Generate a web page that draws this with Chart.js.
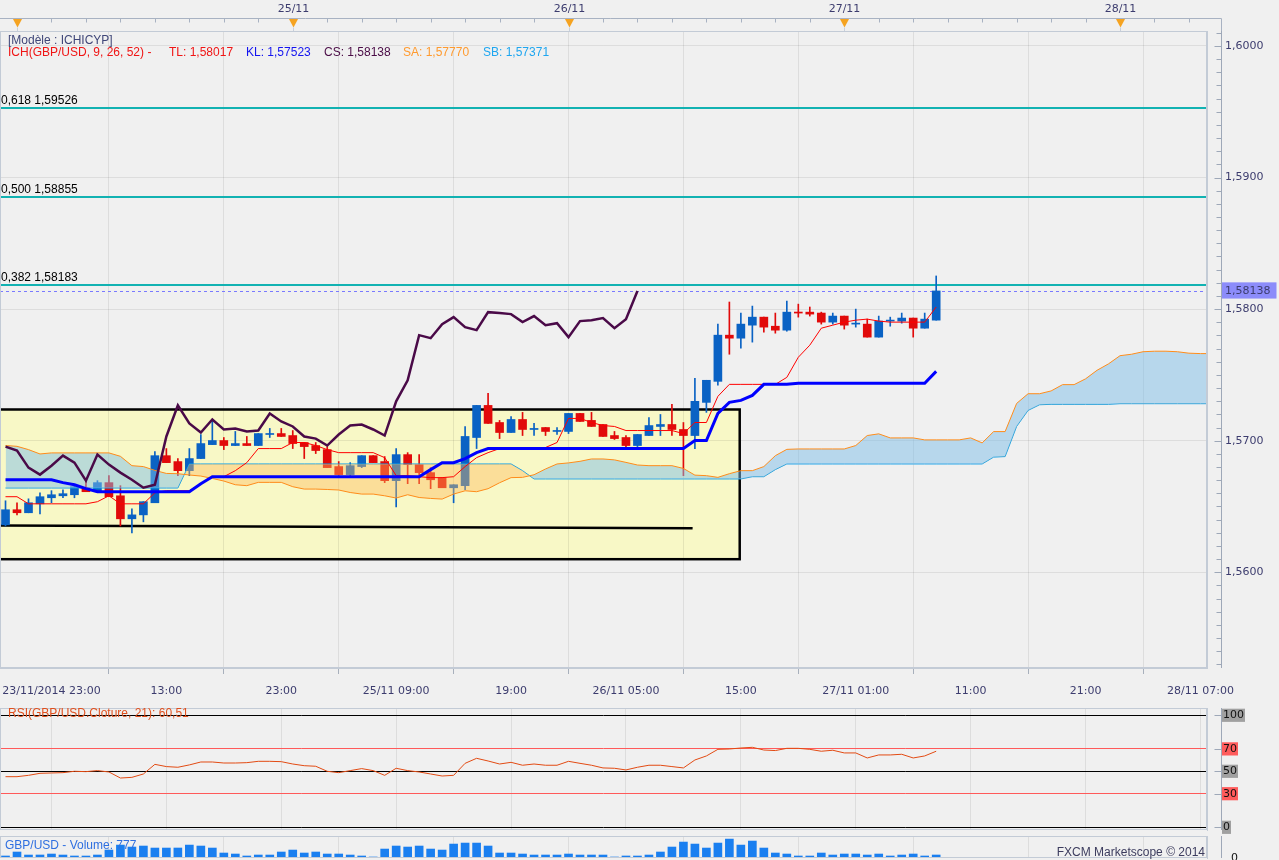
<!DOCTYPE html>
<html lang="fr">
<head>
<meta charset="UTF-8">
<title>GBP/USD - ICHICYP</title>
<style>
  body { margin: 0; padding: 0; background: #f0f0f0; width: 1279px; height: 860px; overflow: hidden; position: relative; font-family: 'Liberation Sans', Arial, sans-serif; }
  canvas { position: absolute; left: 0; }
  #main { top: 0; }
  #rsi { top: 705px; }
  #vol { top: 834px; }
  .txt { position: absolute; font-size: 12px; line-height: 14px; white-space: nowrap; z-index: 2; }
</style>
</head>
<body>
<canvas id="main" width="1279" height="705"></canvas>
<canvas id="rsi" width="1279" height="130"></canvas>
<canvas id="vol" width="1279" height="40"></canvas>

<div class="txt" style="left:8px;top:33px;color:#3f4678">[Modèle : ICHICYP]</div>
<div class="txt" style="left:8px;top:45px;color:#f01414">ICH(GBP/USD, 9, 26, 52) -</div>
<div class="txt" style="left:169px;top:45px;color:#f01414">TL: 1,58017</div>
<div class="txt" style="left:246px;top:45px;color:#1414f0">KL: 1,57523</div>
<div class="txt" style="left:324px;top:45px;color:#4a0c46">CS: 1,58138</div>
<div class="txt" style="left:403px;top:45px;color:#ff9a2e">SA: 1,57770</div>
<div class="txt" style="left:483px;top:45px;color:#1ea6f0">SB: 1,57371</div>
<div class="txt" style="left:8px;top:706px;color:#e0501e">RSI(GBP/USD.Cloture, 21): 60,51</div>
<div class="txt" style="left:5px;top:838px;color:#2f6fe0">GBP/USD - Volume: 777</div>
<div class="txt" style="right:74px;top:845px;color:#3c3c5e">FXCM Marketscope © 2014</div>

<script src="https://cdn.jsdelivr.net/npm/chart.js"></script>
<script>
// bougies horaires GBP/USD (index de barre 0..81)
const opens = [1.56360,1.56475,1.56452,1.56520,1.56566,1.56581,1.56589,1.56642,1.56612,1.56681,
  1.56581,1.56406,1.56436,1.56528,1.56886,1.56841,1.56772,1.56864,1.56970,1.57001,
  1.56963,1.56978,1.56963,1.57047,1.57054,1.57039,1.56986,1.56963,1.56932,1.56803,
  1.56742,1.56803,1.56886,1.56841,1.56696,1.56894,1.56818,1.56757,1.56719,1.56642,
  1.56658,1.57024,1.57268,1.57138,1.57062,1.57161,1.57085,1.57100,1.57070,1.57070,
  1.57207,1.57154,1.57123,1.57039,1.57024,1.56963,1.57039,1.57108,1.57123,1.57085,
  1.57039,1.57291,1.57451,1.57802,1.57779,1.57878,1.57939,1.57870,1.57840,1.57977,
  1.57977,1.57970,1.57901,1.57947,1.57886,1.57886,1.57787,1.57909,1.57909,1.57932,
  1.57855,1.57916];
const highs = [1.56543,1.56528,1.56558,1.56604,1.56620,1.56627,1.56665,1.56688,1.56696,1.56734,
  1.56658,1.56482,1.56536,1.56917,1.56940,1.56864,1.56940,1.57047,1.57161,1.57024,
  1.57070,1.57032,1.57054,1.57093,1.57093,1.57077,1.56986,1.56986,1.56955,1.56841,
  1.56833,1.56886,1.56886,1.56879,1.56940,1.56909,1.56894,1.56795,1.56719,1.56665,
  1.57108,1.57268,1.57360,1.57154,1.57184,1.57215,1.57131,1.57100,1.57100,1.57207,
  1.57207,1.57215,1.57123,1.57070,1.57039,1.57047,1.57176,1.57199,1.57276,1.57138,
  1.57474,1.57459,1.57886,1.58054,1.57970,1.58023,1.57939,1.57970,1.58061,1.58038,
  1.58016,1.57977,1.57970,1.57947,1.58000,1.57924,1.57947,1.57939,1.57970,1.57932,
  1.57970,1.58252];
const lows = [1.56352,1.56436,1.56452,1.56444,1.56528,1.56566,1.56566,1.56612,1.56612,1.56574,
  1.56352,1.56299,1.56383,1.56528,1.56833,1.56734,1.56734,1.56864,1.56970,1.56932,
  1.56963,1.56963,1.56963,1.57024,1.57032,1.56940,1.56864,1.56902,1.56795,1.56726,
  1.56726,1.56795,1.56833,1.56681,1.56497,1.56673,1.56673,1.56635,1.56642,1.56528,
  1.56627,1.56940,1.57131,1.57016,1.57062,1.57039,1.57039,1.57039,1.57047,1.57054,
  1.57146,1.57108,1.57032,1.57009,1.56940,1.56955,1.57039,1.57039,1.57039,1.56734,
  1.56940,1.57215,1.57421,1.57657,1.57703,1.57749,1.57825,1.57817,1.57832,1.57939,
  1.57947,1.57886,1.57886,1.57848,1.57863,1.57787,1.57787,1.57870,1.57893,1.57787,
  1.57855,1.57916];
const closes = [1.56475,1.56452,1.56528,1.56574,1.56589,1.56597,1.56650,1.56612,1.56681,1.56574,
  1.56406,1.56436,1.56536,1.56886,1.56833,1.56772,1.56864,1.56978,1.57001,1.56963,
  1.56978,1.56963,1.57054,1.57050,1.57032,1.56978,1.56955,1.56925,1.56795,1.56742,
  1.56810,1.56886,1.56833,1.56696,1.56894,1.56818,1.56757,1.56703,1.56642,1.56665,
  1.57032,1.57268,1.57131,1.57062,1.57161,1.57085,1.57093,1.57070,1.57077,1.57207,
  1.57146,1.57108,1.57032,1.57016,1.56963,1.57047,1.57115,1.57123,1.57085,1.57039,
  1.57299,1.57459,1.57802,1.57779,1.57886,1.57939,1.57863,1.57840,1.57977,1.57970,
  1.57962,1.57901,1.57947,1.57878,1.57893,1.57787,1.57909,1.57916,1.57932,1.57855,
  1.57924,1.58138];

// Ichimoku
const tenkan = [1.56574,1.56574,1.56520,1.56520,1.56520,1.56520,1.56520,1.56520,1.56536,1.56581,
  1.56520,1.56520,1.56520,1.56604,1.56620,1.56620,1.56620,1.56673,1.56726,1.56726,
  1.56772,1.56833,1.56940,1.56940,1.56940,1.56986,1.56986,1.56963,1.56932,1.56909,
  1.56909,1.56909,1.56909,1.56871,1.56734,1.56734,1.56726,1.56719,1.56719,1.56726,
  1.56803,1.56871,1.56909,1.56940,1.56940,1.56940,1.56940,1.56948,1.56986,1.57169,
  1.57169,1.57138,1.57115,1.57108,1.57077,1.57077,1.57077,1.57077,1.57077,1.57054,
  1.57138,1.57138,1.57337,1.57428,1.57428,1.57428,1.57428,1.57428,1.57481,1.57634,
  1.57726,1.57855,1.57878,1.57901,1.57916,1.57924,1.57909,1.57901,1.57901,1.57901,
  1.57901,1.58016];
const kijun = [1.56703,1.56703,1.56703,1.56703,1.56703,1.56681,1.56665,1.56635,1.56612,1.56612,
  1.56612,1.56612,1.56612,1.56612,1.56612,1.56612,1.56612,1.56673,1.56726,1.56726,
  1.56726,1.56726,1.56726,1.56726,1.56726,1.56726,1.56726,1.56726,1.56726,1.56726,
  1.56726,1.56726,1.56726,1.56726,1.56726,1.56726,1.56726,1.56780,1.56833,1.56833,
  1.56864,1.56909,1.56940,1.56940,1.56940,1.56940,1.56940,1.56940,1.56940,1.56940,
  1.56940,1.56940,1.56940,1.56940,1.56940,1.56940,1.56940,1.56940,1.56940,1.56940,
  1.57001,1.57001,1.57207,1.57291,1.57306,1.57344,1.57428,1.57428,1.57428,1.57436,
  1.57436,1.57436,1.57436,1.57436,1.57436,1.57436,1.57436,1.57436,1.57436,1.57436,
  1.57436,1.57527];
// nuage, projeté jusqu'à la barre 105
const spanA = [1.56963,1.56957,1.56932,1.56899,1.56907,1.56907,1.56907,1.56907,1.56907,1.56907,
  1.56881,1.56810,1.56803,1.56774,1.56751,1.56749,1.56739,1.56731,1.56713,1.56693,
  1.56665,1.56658,1.56683,1.56683,1.56683,1.56650,1.56632,1.56632,1.56629,1.56625,
  1.56606,1.56594,1.56594,1.56581,1.56564,1.56589,1.56568,1.56561,1.56556,1.56594,
  1.56619,1.56612,1.56635,1.56680,1.56719,1.56721,1.56741,1.56785,1.56823,1.56831,
  1.56843,1.56861,1.56861,1.56854,1.56835,1.56815,1.56810,1.56810,1.56810,1.56789,
  1.56738,1.56734,1.56721,1.56749,1.56772,1.56772,1.56803,1.56886,1.56934,1.56937,
  1.56937,1.56937,1.56937,1.56937,1.56963,1.57039,1.57052,1.57021,1.57021,1.57021,
  1.57006,1.57006,1.57006,1.57006,1.57021,1.56983,1.57069,1.57069,1.57283,1.57357,
  1.57357,1.57378,1.57426,1.57426,1.57470,1.57535,1.57584,1.57646,1.57657,1.57676,
  1.57680,1.57680,1.57676,1.57665,1.57662,1.57662];
const spanB = [1.56640,1.56640,1.56640,1.56640,1.56640,1.56640,1.56640,1.56640,1.56640,1.56640,
  1.56640,1.56640,1.56640,1.56640,1.56640,1.56640,1.56823,1.56823,1.56823,1.56823,
  1.56823,1.56823,1.56823,1.56823,1.56823,1.56823,1.56823,1.56823,1.56823,1.56823,
  1.56823,1.56823,1.56823,1.56823,1.56823,1.56823,1.56823,1.56823,1.56823,1.56823,
  1.56823,1.56823,1.56823,1.56823,1.56823,1.56772,1.56709,1.56709,1.56709,1.56709,
  1.56709,1.56709,1.56709,1.56709,1.56709,1.56709,1.56709,1.56709,1.56709,1.56709,
  1.56709,1.56709,1.56709,1.56709,1.56709,1.56726,1.56726,1.56780,1.56823,1.56823,
  1.56823,1.56823,1.56823,1.56823,1.56823,1.56823,1.56823,1.56823,1.56823,1.56823,
  1.56823,1.56823,1.56823,1.56823,1.56823,1.56823,1.56875,1.56879,1.57108,1.57230,
  1.57273,1.57276,1.57276,1.57276,1.57276,1.57276,1.57276,1.57281,1.57281,1.57281,
  1.57281,1.57281,1.57281,1.57281,1.57281,1.57281];
const chikouShift = 26;

const rsi = [45.2,45.2,46.4,48.2,48.5,48.8,50.0,49.7,50.6,49.4,
  44.0,44.6,47.6,56.2,54.2,53.6,55.7,58.3,58.3,57.4,
  57.4,57.7,58.9,58.9,58.6,56.5,55.0,54.5,50.0,48.8,
  50.6,52.4,50.6,46.4,52.7,50.6,49.4,47.6,45.8,46.4,
  57.1,61.6,59.2,56.5,58.0,55.4,56.5,55.4,55.4,58.9,
  57.1,55.4,53.0,52.7,51.2,53.6,55.4,55.4,54.2,53.0,
  60.1,63.7,69.6,69.9,70.8,71.4,69.0,68.5,70.5,70.5,
  69.6,67.9,68.8,66.4,66.4,61.9,64.6,64.6,65.2,61.9,
  63.7,67.9];
const rsiLevels = [0, 30, 50, 70, 100];

const volumes = [520,1550,770,780,1030,770,520,510,775,2060,
  3350,2840,3100,2580,2580,2590,3350,3100,2580,1290,
  1030,520,775,770,1550,2060,1290,1550,1030,1035,
  770,520,260,2320,3100,2840,3100,2320,2060,3610,
  3870,3870,3100,1290,1290,1030,770,775,770,1030,
  770,775,770,260,520,515,770,1550,2840,4130,
  3610,2580,3870,4900,3350,4390,2580,1290,1030,520,
  515,1290,770,1030,1035,770,1030,520,770,1030,
  520,777];

// Fibonacci
const fibRatios = ['0,618', '0,500', '0,382'];
const fibLevels = [1.59526, 1.58855, 1.58183];

// rectangle jaune et ligne de support (barre, prix)
const zone = [-3, 63.9, 1.56099, 1.57237];
const supportLine = [{x: -0.5, y: 1.56356}, {x: 59.8, y: 1.56334}];

// axes
const tickBars = [4, 14, 24, 34, 44, 54, 64, 74, 84, 94, 104];
const tickLabels = ['23/11/2014 23:00', '13:00', '23:00', '25/11 09:00', '19:00', '26/11 05:00',
  '15:00', '27/11 01:00', '11:00', '21:00', '28/11 07:00'];
const dayBars = [1, 25, 49, 73, 97];
const dayLabels = ['', '25/11', '26/11', '27/11', '28/11'];

const X_MIN = -0.48, X_MAX = 104.57;
const Y_MIN = 1.55272, Y_MAX = 1.60114;
const lastClose = closes[closes.length - 1];

const UP = '#0a62c4', DOWN = '#e10a0a';
const AXIS_TXT = '#3c3c6e';
const GRID = 'rgba(0,0,0,0.08)';
const FRAME = '#c3cbd6';
const RULER_Y = 18.5;

Chart.defaults.font.family = "'DejaVu Sans', sans-serif";
Chart.defaults.font.size = 11;
Chart.defaults.animation = false;
Chart.defaults.plugins.legend.display = false;
Chart.defaults.plugins.tooltip.enabled = false;

const idx = closes.map((_, i) => i);
const candleColor = idx.map(i => closes[i] >= opens[i] ? UP : DOWN);
const pts = arr => arr.map((v, i) => ({x: i, y: v}));
const fmt = (v, d) => v.toFixed(d).replace('.', ',');
const isMajor = v => v !== lastClose && Math.abs(v * 100 - Math.round(v * 100)) < 1e-6;

// pas de marge automatique due aux libellés : les panneaux restent alignés
const noPad = s => { s.paddingLeft = 0; s.paddingRight = 0; s.paddingTop = 0; s.paddingBottom = 0; };

const xCommon = {
  type: 'linear', min: X_MIN, max: X_MAX, offset: false,
  afterBuildTicks: s => { s.ticks = tickBars.map(v => ({value: v})); }
};

// cadre + axe de droite avec petites graduations
const rightAxis = {
  id: 'rightAxis',
  afterDraw(chart) {
    const {ctx, chartArea: a, scales: {y}} = chart;
    const ax = Math.round(a.right) + 14.5;
    ctx.save();
    ctx.strokeStyle = FRAME;
    ctx.lineWidth = 1;
    ctx.strokeRect(a.left + 0.5, a.top + 0.5, a.right - a.left - 1, a.bottom - a.top - 1);
    ctx.strokeStyle = '#9ea8b8';
    ctx.beginPath();
    ctx.moveTo(ax, a.top);
    ctx.lineTo(ax, a.bottom);
    y.ticks.forEach(t => {
      if (t.value === lastClose) return;
      const py = Math.round(y.getPixelForValue(t.value)) + 0.5;
      if (py < a.top || py > a.bottom) return;
      const len = t.label ? 7 : 5;
      ctx.moveTo(ax - len, py);
      ctx.lineTo(ax, py);
    });
    ctx.stroke();
    ctx.restore();
  }
};

const mainDecor = {
  id: 'mainDecor',
  beforeDraw(chart) {
    const {ctx, chartArea: a, scales: {x, y}} = chart;
    ctx.save();
    ctx.beginPath();
    ctx.rect(a.left, a.top, a.right - a.left, a.bottom - a.top);
    ctx.clip();
    const x0 = x.getPixelForValue(zone[0]), x1 = x.getPixelForValue(zone[1]);
    const yt = y.getPixelForValue(zone[3]), yb = y.getPixelForValue(zone[2]);
    ctx.fillStyle = '#f8f8c6';
    ctx.fillRect(x0, yt, x1 - x0, yb - yt);
    ctx.restore();
  },
  beforeDatasetsDraw(chart) {
    const {ctx, chartArea: a, scales: {x, y}} = chart;
    ctx.save();
    ctx.beginPath();
    ctx.rect(a.left, a.top, a.right - a.left, a.bottom - a.top);
    ctx.clip();
    // bord du rectangle
    const x0 = x.getPixelForValue(zone[0]), x1 = x.getPixelForValue(zone[1]);
    const yt = y.getPixelForValue(zone[3]), yb = y.getPixelForValue(zone[2]);
    ctx.strokeStyle = '#000';
    ctx.lineWidth = 2.5;
    ctx.strokeRect(x0, yt, x1 - x0, yb - yt);
    // niveaux de Fibonacci
    ctx.strokeStyle = '#12b2b2';
    ctx.lineWidth = 2;
    ctx.fillStyle = '#000';
    ctx.font = "12px 'Liberation Sans', Arial, sans-serif";
    ctx.textBaseline = 'bottom';
    fibLevels.forEach((lv, i) => {
      const py = Math.round(y.getPixelForValue(lv));
      ctx.beginPath();
      ctx.moveTo(a.left, py);
      ctx.lineTo(a.right, py);
      ctx.stroke();
      ctx.fillText(fibRatios[i] + ' ' + fmt(lv, 5), a.left + 1, py - 1);
    });
    // dernier cours
    const pc = Math.round(y.getPixelForValue(lastClose)) + 0.5;
    ctx.strokeStyle = '#7a7aff';
    ctx.lineWidth = 1;
    ctx.setLineDash([3, 3]);
    ctx.beginPath();
    ctx.moveTo(a.left, pc);
    ctx.lineTo(a.right, pc);
    ctx.stroke();
    ctx.restore();
  },
  afterDraw(chart) {
    const {ctx, chartArea: a, scales: {x}} = chart;
    const ax = Math.round(a.right) + 14.5;
    ctx.save();
    // règle du haut, reliée à l'axe de droite
    ctx.strokeStyle = '#a8b2c2';
    ctx.lineWidth = 1;
    ctx.beginPath();
    ctx.moveTo(0, RULER_Y);
    ctx.lineTo(ax, RULER_Y);
    ctx.lineTo(ax, a.top);
    for (let b = dayBars[0]; b <= X_MAX; b += 3) {
      const px = Math.round(x.getPixelForValue(b)) + 0.5;
      ctx.moveTo(px, RULER_Y);
      ctx.lineTo(px, RULER_Y + 4);
    }
    ctx.stroke();
    ctx.textAlign = 'center';
    ctx.textBaseline = 'middle';
    dayBars.forEach((b, i) => {
      const px = Math.round(x.getPixelForValue(b)) + 0.5;
      ctx.fillStyle = '#f5a321';
      ctx.beginPath();
      ctx.moveTo(px - 4.5, RULER_Y + 0.5);
      ctx.lineTo(px + 4.5, RULER_Y + 0.5);
      ctx.lineTo(px, RULER_Y + 9);
      ctx.closePath();
      ctx.fill();
      ctx.strokeStyle = '#c8d0dc';
      ctx.beginPath();
      ctx.moveTo(px, RULER_Y + 9);
      ctx.lineTo(px, a.top);
      ctx.stroke();
      if (dayLabels[i]) {
        ctx.fillStyle = AXIS_TXT;
        ctx.fillText(dayLabels[i], px, 9);
      }
    });
    ctx.restore();
  }
};

new Chart(document.getElementById('main'), {
  type: 'bar',
  data: {
    datasets: [
      {type: 'line', label: 'CS', data: pts(closes.slice(chikouShift)), borderColor: '#4a0a48', borderWidth: 2.5, pointRadius: 0, order: 1},
      {type: 'line', label: 'KL', data: pts(kijun), borderColor: '#0000ff', borderWidth: 3, pointRadius: 0, order: 2},
      {type: 'line', label: 'TL', data: pts(tenkan), borderColor: '#ff0000', borderWidth: 1, pointRadius: 0, order: 3},
      {type: 'line', label: 'SA', data: pts(spanA), borderColor: '#ff8c1a', borderWidth: 1, pointRadius: 0, order: 7,
        fill: {target: '+1', above: 'rgba(125,190,232,0.5)', below: 'rgba(255,186,90,0.42)'}},
      {type: 'line', label: 'SB', data: pts(spanB), borderColor: '#12a0e8', borderWidth: 1, pointRadius: 0, order: 7},
      {type: 'bar', label: 'corps', data: idx.map(i => ({x: i, y: [opens[i], closes[i]]})), backgroundColor: candleColor,
        barThickness: 8, minBarLength: 1, grouped: false, order: 8},
      {type: 'bar', label: 'mèches', data: idx.map(i => ({x: i, y: [lows[i], highs[i]]})), backgroundColor: candleColor,
        barThickness: 1, grouped: false, order: 9},
      {type: 'line', label: 'support', data: supportLine, borderColor: '#000', borderWidth: 2.5, pointRadius: 0, order: 10}
    ]
  },
  options: {
    responsive: false,
    layout: {padding: {top: 31, left: 0, right: 0, bottom: 0}},
    scales: {
      x: {
        ...xCommon,
        afterFit: s => { s.height = 37; noPad(s); },
        ticks: {autoSkip: false, maxRotation: 0, padding: 11, color: AXIS_TXT,
          callback: (v, i) => tickLabels[i] || ''},
        grid: {color: GRID, tickColor: '#a8b0bc', tickLength: 6},
        border: {color: FRAME}
      },
      y: {
        position: 'right', min: Y_MIN, max: Y_MAX,
        afterBuildTicks: s => {
          const t = [];
          for (let k = 1553; k <= 1601; k++) t.push({value: k / 1000});
          t.push({value: lastClose});
          s.ticks = t;
        },
        afterFit: s => { s.width = 72; noPad(s); },
        ticks: {
          autoSkip: false, padding: 18, color: AXIS_TXT,
          callback: v => v === lastClose ? fmt(v, 5) : (isMajor(v) ? fmt(v, 4) : ''),
          showLabelBackdrop: c => !!c.tick && c.tick.value === lastClose,
          backdropColor: '#8c8cfa',
          backdropPadding: {left: 3, right: 6, top: 2, bottom: 1}
        },
        grid: {drawTicks: false, color: c => c.tick && isMajor(c.tick.value) ? GRID : 'rgba(0,0,0,0)'},
        border: {color: FRAME}
      }
    }
  },
  plugins: [mainDecor, rightAxis]
});

new Chart(document.getElementById('rsi'), {
  type: 'line',
  data: {datasets: [{data: pts(rsi), borderColor: '#e24a12', borderWidth: 1, pointRadius: 0}]},
  options: {
    responsive: false,
    layout: {padding: {top: 3, bottom: 5, left: 0, right: 0}},
    scales: {
      x: {...xCommon, afterFit: s => { s.height = 0; noPad(s); }, ticks: {display: false},
        grid: {color: GRID, drawTicks: false}, border: {display: false}},
      y: {
        position: 'right', min: -2.4, max: 106.5,
        afterBuildTicks: s => { s.ticks = rsiLevels.map(v => ({value: v})); },
        afterFit: s => { s.width = 72; noPad(s); },
        ticks: {autoSkip: false, padding: 16, color: '#111',
          showLabelBackdrop: true,
          backdropColor: c => c.tick && (c.tick.value === 70 || c.tick.value === 30) ? '#ff5c5c' : '#a0a0a0',
          backdropPadding: {left: 1, right: 1, top: 0, bottom: 0}},
        grid: {drawTicks: false, color: c => c.tick && (c.tick.value === 70 || c.tick.value === 30) ? '#ff5a5a' : '#000'},
        border: {color: FRAME}
      }
    }
  },
  plugins: [rightAxis]
});

new Chart(document.getElementById('vol'), {
  type: 'bar',
  data: {datasets: [{data: pts(volumes), backgroundColor: '#1a7ff0', barThickness: 8}]},
  options: {
    responsive: false,
    layout: {padding: {top: 2, bottom: 16, left: 0, right: 0}},
    scales: {
      x: {...xCommon, afterFit: s => { s.height = 0; noPad(s); }, ticks: {display: false},
        grid: {color: GRID, drawTicks: false}, border: {display: false}},
      y: {
        position: 'right', min: 0, max: 5700,
        afterBuildTicks: s => { s.ticks = [{value: 0}]; },
        afterFit: s => { s.width = 72; noPad(s); },
        ticks: {padding: 16, color: '#111'},
        grid: {display: false},
        border: {color: FRAME}
      }
    }
  },
  plugins: [rightAxis]
});
</script>
</body>
</html>
